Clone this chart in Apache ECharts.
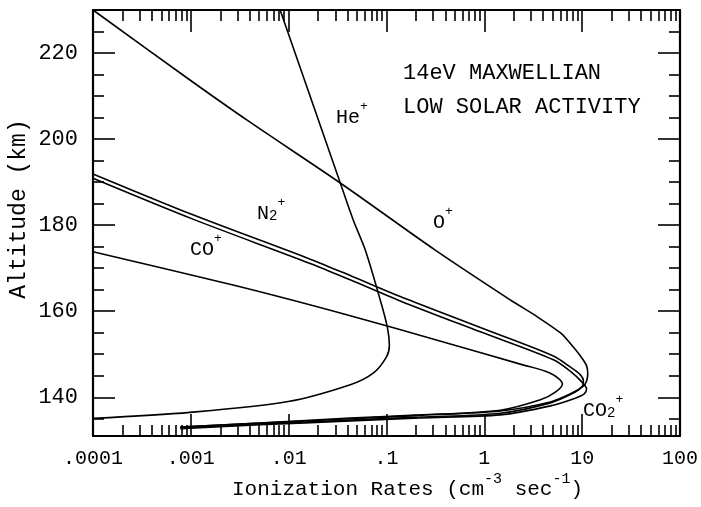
<!DOCTYPE html>
<html><head><meta charset="utf-8">
<script src="https://cdn.jsdelivr.net/npm/echarts@6/dist/echarts.min.js"></script>
<style>html,body{margin:0;padding:0;background:#fff}#c{width:701px;height:507px}</style>
</head><body><div id="c"></div>
<script>
// ---- tick definitions ----
const xMajorTicks = [0.0001, 0.001, 0.01, 0.1, 1, 10, 100];
const xTickLabels = ['.0001', '.001', '.01', '.1', '1', '10', '100'];
const xMinorMultipliers = [2, 3, 4, 5, 6, 7, 8, 9];
const yMajorTicks = [140, 160, 180, 200, 220];
const yMinorTicks = [135, 145, 150, 155, 165, 170, 175, 185, 190, 195, 205, 210, 215, 225];

// ---- series data: [ionization rate (cm^-3 s^-1), altitude (km)] ----
const oPlus = [[0.0001,230.0],[0.000917,214.2],[0.00376,204.4],[0.0337,189.8],[0.315,174.2],[1.85,162.6],[3.48,158.7],[6.05,154.9],[7.06,153.3],[9.6,149.6],[11.1,147.3],[11.4,145.4],[11.1,143.8],[10.3,142.6],[7.6,140.8],[4.73,138.9],[1.46,136.8],[0.221,135.8],[0.0425,135.0],[0.0051,134.0],[0.00078,133.1]];
const hePlus = [[0.00818,230.0],[0.0337,189.8],[0.0457,181.2],[0.0607,174.2],[0.0863,162.6],[0.102,156.3],[0.107,152.1],[0.100,149.4],[0.0731,145.6],[0.0426,142.9],[0.00989,139.0],[0.000982,136.5],[0.0001,135.1]];
const n2Plus = [[0.0001,191.9],[0.00105,182.4],[0.0166,172.1],[0.0425,168.3],[0.138,163.4],[0.91,156.2],[5.08,149.6],[7.6,147.0],[9.6,145.2],[10.3,143.8],[10.07,142.6],[8.5,141.2],[4.73,138.7],[1.46,136.3],[0.221,135.4],[0.0425,134.7],[0.0051,133.8],[0.00078,132.9]];
const coPlus = [[0.0001,190.9],[0.00105,181.4],[0.0166,171.1],[0.0425,167.3],[0.138,162.4],[0.91,155.2],[5.08,148.7],[7.6,146.0],[10.07,143.4],[11.1,141.9],[10.5,140.8],[8.5,139.8],[4.73,138.0],[1.46,135.9],[0.221,135.2],[0.0425,134.5],[0.0051,133.6],[0.00078,132.7]];
const co2Plus = [[0.0001,173.8],[0.0027,166.1],[0.0337,159.6],[0.449,152.4],[2.33,147.7],[4.73,145.6],[6.28,143.1],[5.32,141.2],[3.74,139.4],[1.46,137.0],[0.221,135.9],[0.0425,135.2],[0.0051,134.0],[0.00078,133.1]];
const seriesNames = ['O+', 'He+', 'N2+', 'CO+', 'CO2+'];
const seriesData = [oPlus, hePlus, n2Plus, coPlus, co2Plus];

// ---- text ----
const titleLines = ['14eV MAXWELLIAN', 'LOW SOLAR ACTIVITY'];
const FONT = '"Liberation Mono", "DejaVu Sans Mono", monospace';

const xMinorTicks = [];
xMajorTicks.slice(0, -1).forEach(d => xMinorMultipliers.forEach(m => xMinorTicks.push(+(d * m).toPrecision(3))));

function xLabel(v) {
  const i = xMajorTicks.findIndex(t => Math.abs(Math.log10(t) - Math.log10(v)) < 1e-6);
  return i >= 0 ? xTickLabels[i] : '';
}

const frame = { color: '#000', width: 2.2 };
function xAxis(position, ticks, len, labels, line) {
  return {
    type: 'log', logBase: 10, min: 0.0001, max: 100, position,
    axisLine: { show: line, onZero: false, lineStyle: frame },
    axisTick: { show: true, inside: true, length: len, customValues: ticks, lineStyle: { color: '#000', width: 1.6 } },
    axisLabel: labels ? { show: true, customValues: xMajorTicks, formatter: xLabel, margin: 13,
      fontFamily: FONT, fontSize: 20, color: '#000' } : { show: false },
    splitLine: { show: false }, minorTick: { show: false }, minorSplitLine: { show: false }
  };
}
function yAxis(position, ticks, len, labels, line) {
  return {
    type: 'value', min: 131, max: 230, position,
    axisLine: { show: line, onZero: false, lineStyle: frame },
    axisTick: { show: true, inside: true, length: len, customValues: ticks, lineStyle: { color: '#000', width: 1.6 } },
    axisLabel: labels ? { show: true, customValues: yMajorTicks, margin: 15,
      fontFamily: FONT, fontSize: 22, color: '#000' } : { show: false },
    splitLine: { show: false }, minorTick: { show: false }
  };
}

const richBase = {
  m: { fontFamily: FONT, fontSize: 20, lineHeight: 27, verticalAlign: 'bottom', fill: '#000' },
  p: { fontFamily: FONT, fontSize: 13, lineHeight: 13, verticalAlign: 'top', fill: '#000' },
  s: { fontFamily: FONT, fontSize: 14, lineHeight: 14, verticalAlign: 'bottom', fill: '#000' }
};
function ionLabel(text, x, y) {
  return { type: 'text', x, y, silent: true,
    style: { text, rich: richBase, align: 'left', verticalAlign: 'middle', fill: '#000' } };
}

const chart = echarts.init(document.getElementById('c'), null, { renderer: 'canvas' });
chart.setOption({
  animation: false,
  backgroundColor: '#fff',
  grid: { left: 93, right: 21, top: 10, bottom: 71, containLabel: false },
  xAxis: [
    xAxis('bottom', xMajorTicks, 22, true, true),
    xAxis('bottom', xMinorTicks, 11, false, false),
    xAxis('top', xMajorTicks, 22, false, true),
    xAxis('top', xMinorTicks, 11, false, false)
  ],
  yAxis: [
    yAxis('left', yMajorTicks, 22, true, true),
    yAxis('left', yMinorTicks, 11, false, false),
    yAxis('right', yMajorTicks, 22, false, true),
    yAxis('right', yMinorTicks, 11, false, false)
  ],
  series: seriesData.map((d, i) => ({
    name: seriesNames[i], type: 'line', data: d, xAxisIndex: 0, yAxisIndex: 0,
    showSymbol: false, symbol: 'none', smooth: 0.3,
    lineStyle: { color: '#000', width: 1.6 }
  })),
  graphic: [
    { type: 'text', x: 403, y: 73.5, silent: true,
      style: { text: titleLines[0], font: '22px ' + FONT, fill: '#000', align: 'left', verticalAlign: 'middle' } },
    { type: 'text', x: 403, y: 107.5, silent: true,
      style: { text: titleLines[1], font: '22px ' + FONT, fill: '#000', align: 'left', verticalAlign: 'middle' } },
    ionLabel('{m|He}{p|+}', 336, 114),
    ionLabel('{m|O}{p|+}', 433, 219),
    ionLabel('{m|N}{s|2}{p|+}', 257, 210),
    ionLabel('{m|CO}{p|+}', 190, 246),
    ionLabel('{m|CO}{s|2}{p|+}', 583, 407),
    { type: 'text', x: 232, y: 486, silent: true,
      style: { text: '{m|Ionization Rates (cm}{p|-3}{m| sec}{p|-1}{m|)}', align: 'left', verticalAlign: 'middle',
        rich: {
          m: { fontFamily: FONT, fontSize: 21, lineHeight: 28, verticalAlign: 'bottom', fill: '#000' },
          p: { fontFamily: FONT, fontSize: 15, lineHeight: 15, verticalAlign: 'top', fill: '#000' }
        } } },
    { type: 'text', x: 19, y: 209, rotation: Math.PI / 2, silent: true,
      style: { text: 'Altitude (km)', font: '23px ' + FONT, fill: '#000', align: 'center', verticalAlign: 'middle' } }
  ]
});
</script>
</body></html>
